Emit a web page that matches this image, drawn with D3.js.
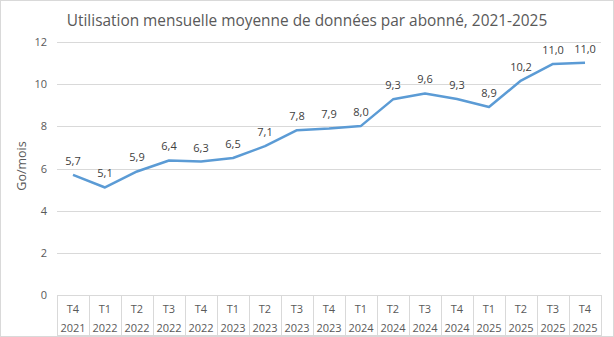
<!DOCTYPE html>
<html>
<head>
<meta charset="utf-8">
<script src="https://cdn.jsdelivr.net/npm/d3@7"></script>
<style>
  body { margin: 0; background: #fff; }
  text { font-family: "Open Sans", "Noto Sans", sans-serif; }
</style>
</head>
<body>
<div id="chart"></div>
<script>
const quarters = ["T4","T1","T2","T3","T4","T1","T2","T3","T4","T1","T2","T3","T4","T1","T2","T3","T4"];
const years = ["2021","2022","2022","2022","2022","2023","2023","2023","2023","2024","2024","2024","2024","2025","2025","2025","2025"];
const usage = [5.7, 5.1, 5.86, 6.38, 6.33, 6.5, 7.06, 7.82, 7.9, 8.02, 9.28, 9.56, 9.3, 8.92, 10.17, 10.96, 11.02];
const yTicks = [0, 2, 4, 6, 8, 10, 12];

const width = 614, height = 337;
const plotLeft = 57, plotRight = 601, plotTop = 42, plotBottom = 295;

const svg = d3.select("#chart").append("svg")
    .attr("width", width)
    .attr("height", height);

// chart border
svg.append("rect")
    .attr("x", 0.5).attr("y", 0.5)
    .attr("width", width - 1).attr("height", height - 1)
    .attr("fill", "#fff")
    .attr("stroke", "#d9d9d9");

svg.append("text")
    .attr("x", 307)
    .attr("y", 26)
    .attr("text-anchor", "middle")
    .attr("font-size", 15.4)
    .attr("fill", "#595959")
    .text("Utilisation mensuelle moyenne de données par abonné, 2021-2025");

const keys = usage.map((d, i) => i);

const x = d3.scaleBand()
    .domain(keys)
    .range([plotLeft, plotRight]);

const y = d3.scaleLinear()
    .domain([0, 12])
    .range([plotBottom, plotTop]);

// gridlines
svg.append("g")
    .selectAll("line")
    .data(yTicks.filter(d => d > 0))
    .join("line")
    .attr("x1", plotLeft).attr("x2", plotRight)
    .attr("y1", d => Math.round(y(d)) + 0.5).attr("y2", d => Math.round(y(d)) + 0.5)
    .attr("stroke", "#d9d9d9");

// y axis labels
const yAxis = svg.append("g")
    .attr("transform", `translate(${plotLeft - 10},0)`)
    .call(d3.axisLeft(y).tickValues(yTicks).tickSize(0).tickPadding(0));
yAxis.select(".domain").remove();
yAxis.selectAll("text")
    .attr("font-size", 11)
    .attr("fill", "#595959")
    .attr("font-family", "'Open Sans', sans-serif");

svg.append("text")
    .attr("transform", `translate(26,166) rotate(-90)`)
    .attr("text-anchor", "middle")
    .attr("font-size", 12.5)
    .attr("fill", "#595959")
    .text("Go/mois");

// category table under the axis
const table = svg.append("g");
table.append("line")
    .attr("x1", plotLeft).attr("x2", plotRight)
    .attr("y1", plotBottom + 0.5).attr("y2", plotBottom + 0.5)
    .attr("stroke", "#d9d9d9");
table.append("line")
    .attr("x1", plotLeft).attr("x2", plotRight)
    .attr("y1", 335.5).attr("y2", 335.5)
    .attr("stroke", "#d9d9d9");
table.selectAll(".sep")
    .data(keys.concat([keys.length]))
    .join("line")
    .attr("class", "sep")
    .attr("x1", i => Math.round(plotLeft + i * x.bandwidth()) + 0.5)
    .attr("x2", i => Math.round(plotLeft + i * x.bandwidth()) + 0.5)
    .attr("y1", plotBottom).attr("y2", 336)
    .attr("stroke", "#d9d9d9");

table.selectAll(".q")
    .data(keys)
    .join("text")
    .attr("class", "q")
    .attr("x", i => x(i) + x.bandwidth() / 2)
    .attr("y", 313)
    .attr("text-anchor", "middle")
    .attr("font-size", 11)
    .attr("fill", "#595959")
    .text(i => quarters[i]);

table.selectAll(".yr")
    .data(keys)
    .join("text")
    .attr("class", "yr")
    .attr("x", i => x(i) + x.bandwidth() / 2)
    .attr("y", 332)
    .attr("text-anchor", "middle")
    .attr("font-size", 11)
    .attr("fill", "#595959")
    .text(i => years[i]);

// line
const line = d3.line()
    .x((d, i) => x(i) + x.bandwidth() / 2)
    .y(d => y(d));

svg.append("path")
    .datum(usage)
    .attr("fill", "none")
    .attr("stroke", "#5b9bd5")
    .attr("stroke-width", 2.5)
    .attr("stroke-linejoin", "round")
    .attr("d", line);

// data labels
svg.append("g")
    .selectAll("text")
    .data(usage)
    .join("text")
    .attr("x", (d, i) => x(i) + x.bandwidth() / 2)
    .attr("y", d => y(d) - 10)
    .attr("text-anchor", "middle")
    .attr("font-size", 11)
    .attr("fill", "#404040")
    .text(d => d.toFixed(1).replace(".", ","));
</script>
</body>
</html>
